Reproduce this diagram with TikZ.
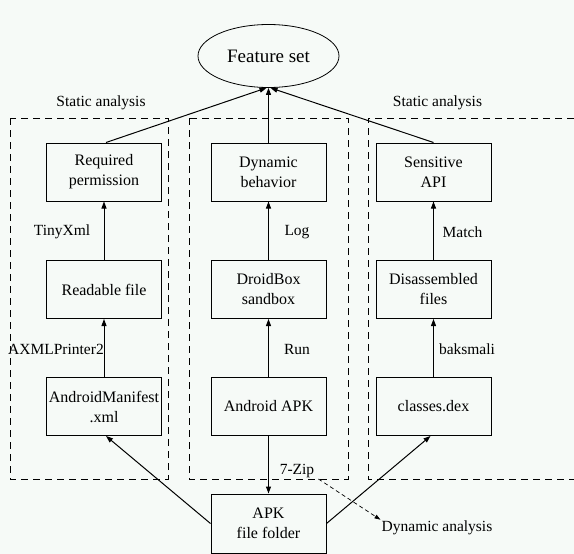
\documentclass[tikz,border=0pt]{standalone}
\usepackage{fontspec}
\setmainfont{Liberation Serif}
\usetikzlibrary{shapes.geometric,arrows.meta}
\definecolor{paper}{RGB}{246,250,247}
\tikzset{
  box/.style={draw, line width=1pt, minimum width=115pt, minimum height=58pt,
    inner sep=0pt, align=center, font=\fontsize{16}{20}\selectfont},
  lbl/.style={inner sep=1pt, font=\fontsize{15.5}{19}\selectfont},
  region/.style={draw, line width=0.8pt, dash pattern=on 7pt off 5pt},
  flow/.style={draw, line width=1pt, -{Triangle[length=7pt,width=5pt]}}
}
\begin{document}
\begin{tikzpicture}[x=1pt,y=-1pt]
      \fill[paper] (0,0) rectangle (574,554);
      \useasboundingbox (0,0) rectangle (574,554);
      % dashed regions
      \draw[region] (10,118) rectangle (168,479);
      \draw[region] (189,118) rectangle (348,479);
      \draw[region] (574,118) -- (368,118) -- (368,479) -- (574,479);
      \node[lbl] (statl) at (101,103) {Static analysis};
      \node[lbl] (statr) at (437.5,103) {Static analysis};
      % nodes
      \node[draw, ellipse, line width=0.8pt, minimum width=141pt, minimum height=63pt,
        inner sep=0pt, font=\fontsize{19}{21}\selectfont] (feat) at (268.5,56) {Feature set};
      \node[box] (perm) at (104,172) {Required\\permission};
      \node[box] (read) at (104,289.5) {Readable file};
      \node[box] (man) at (104,406.5) {AndroidManifest\\.xml};
      \node[box] (dyn) at (268.5,172) {Dynamic\\behavior};
      \node[box] (droid) at (268.5,289.5) {DroidBox\\sandbox};
      \node[box] (apk) at (268.5,406.5) {Android APK};
      \node[box] (api) at (433.5,172) {Sensitive\\API};
      \node[box] (dis) at (433.5,289.5) {Disassembled\\files};
      \node[box] (dex) at (433.5,406.5) {classes.dex};
      \node[box, minimum height=59pt] (folder) at (268.5,523.5) {APK\\file folder};
      % labels
      \node[lbl] (tiny) at (62,232) {TinyXml};
      \node[lbl] (axml) at (56,349) {AXMLPrinter2};
      \node[lbl] (log) at (297,232) {Log};
      \node[lbl] (run) at (297,349) {Run};
      \node[lbl] (match) at (462.5,232) {Match};
      \node[lbl] (baks) at (467,349) {baksmali};
      \node[lbl] (zip) at (297,471) {7-Zip};
      \node[lbl] (dynan) at (437,528) {Dynamic analysis};
      % arrows
      \draw[flow] (man) -- (read);
      \draw[flow] (read) -- (perm);
      \draw[flow] (apk) -- (droid);
      \draw[flow] (droid) -- (dyn);
      \draw[flow] (apk) -- (folder);
      \draw[flow] (dex) -- (dis);
      \draw[flow] (dis) -- (api);
      \draw[flow] (folder.west) -- ([xshift=2pt]man.south);
      \draw[flow] (folder.east) -- ([xshift=-3pt]dex.south);
      \draw[flow] ([xshift=2pt]perm.north) -- ([xshift=-2pt]feat.south);
      \draw[flow] (dyn) -- (feat);
      \draw[flow] (api.north) -- ([xshift=2pt]feat.south);
      \draw[line width=0.7pt, dash pattern=on 4pt off 3pt, -{Triangle[length=6pt,width=4pt]}]
        ([xshift=3pt]zip.south east) -- (dynan.north west);
\end{tikzpicture}
\end{document}
